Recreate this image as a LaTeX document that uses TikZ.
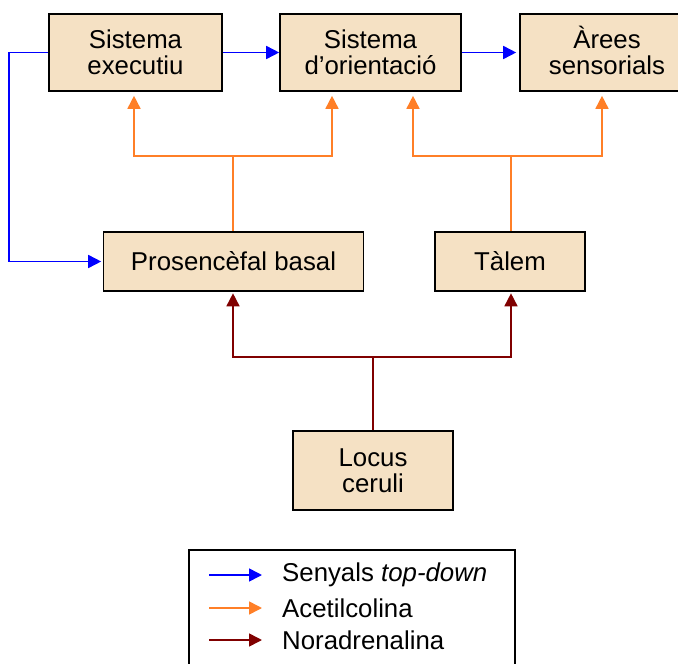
\documentclass[tikz,border=0pt]{standalone}
\usepackage{fontspec}
\setmainfont{Liberation Sans}
\usetikzlibrary{arrows.meta,calc}
\definecolor{boxfill}{HTML}{F5E1C4}
\definecolor{sigblue}{HTML}{0000FF}
\definecolor{achorange}{HTML}{FF7F27}
\definecolor{nadred}{HTML}{800000}
\tikzset{
  blk/.style={draw=black, line width=1.6pt, fill=boxfill, align=center,
    font=\fontsize{25.8}{26}\selectfont, inner sep=0pt},
  conn/.style={line width=1.6pt, -{Triangle[length=13pt,width=13pt]}},
  plainline/.style={line width=1.6pt},
  bl/.style={draw=sigblue, color=sigblue},
  og/.style={draw=achorange, color=achorange},
  dr/.style={draw=nadred, color=nadred},
  legtxt/.style={anchor=west, inner sep=0pt, font=\fontsize{25.8}{26}\selectfont}
}
\begin{document}
\begin{tikzpicture}[x=1pt,y=-1pt]
\useasboundingbox (0,0) rectangle (678,664);
\clip (0,0) rectangle (678,664);
% boxes
\node[blk, minimum width=173pt, minimum height=77pt] (exec) at (135.5,52.5) {Sistema\\executiu};
\node[blk, minimum width=181pt, minimum height=77pt] (orient) at (370.5,52.5) {Sistema\\d’orientació};
\node[blk, minimum width=174pt, minimum height=77pt] (arees) at (607,52.5) {\raisebox{0pt}[18.8pt]{Àrees}\\sensorials};
\node[blk, minimum width=260pt, minimum height=59pt] (pros) at (233.5,261.5) {Prosencèfal basal};
\node[blk, minimum width=150pt, minimum height=59pt] (tal) at (510,261.5) {Tàlem};
\node[blk, minimum width=160pt, minimum height=79pt] (loc) at (373,470.5) {Locus\\ceruli};
% blue top-down
\draw[conn, bl] (exec.east) -- (orient.west);
\draw[conn, bl, shorten >=3pt] (orient.east) -- (arees.west);
\coordinate (bl1) at (9,52.5);
\draw[conn, bl, shorten >=1.5pt] (exec.west) -- (bl1) |- (pros.west);
% orange from prosencefal
\coordinate (oj1) at ($(pros.north)+(-0.5,-75)$);
\draw[plainline, og] ([xshift=-0.5pt]pros.north) -- (oj1);
\draw[conn, og, shorten >=4pt] (oj1) -| ([xshift=-1.5pt]exec.south);
\draw[conn, og, shorten >=4pt] (oj1) -| ([xshift=-38.5pt]orient.south);
% orange from talem
\coordinate (oj2) at ($(tal.north)+(1,-75)$);
\draw[plainline, og] ([xshift=1pt]tal.north) -- (oj2);
\draw[conn, og, shorten >=4pt] (oj2) -| ([xshift=42.5pt]orient.south);
\draw[conn, og, shorten >=4pt] (oj2) -| ([xshift=-5pt]arees.south);
% dark red from locus
\coordinate (rj) at ($(loc.north)+(0,-73)$);
\draw[plainline, dr] (loc.north) -- (rj);
\draw[conn, dr, shorten >=1.5pt] (rj) -| ([xshift=-0.5pt]pros.south);
\draw[conn, dr, shorten >=1.5pt] (rj) -| ([xshift=1pt]tal.south);
% legend
\node[draw=black, line width=1.6pt, fill=white, minimum width=326pt, minimum height=130pt, anchor=north west, inner sep=0pt] (leg) at (188,549) {};
\coordinate (la1) at (209,575);
\coordinate (lb1) at (262,575);
\coordinate (la2) at (209,608);
\coordinate (lb2) at (262,608);
\coordinate (la3) at (209,640);
\coordinate (lb3) at (262,640);
\draw[conn, bl] (la1) -- (lb1);
\draw[conn, og] (la2) -- (lb2);
\draw[conn, dr] (la3) -- (lb3);
\node[legtxt] (t1) at (282,575) {Senyals \textit{top-down}};
\node[legtxt] (t2) at (282,608) {Acetilcolina};
\node[legtxt] (t3) at (282,640) {Noradrenalina};
\end{tikzpicture}
\end{document}
